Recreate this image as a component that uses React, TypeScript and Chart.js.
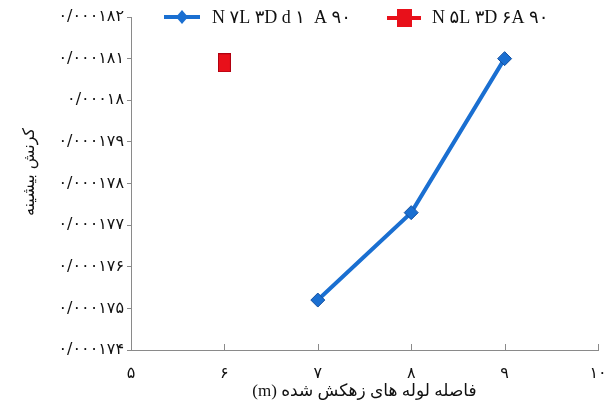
import React, { useEffect, useRef } from "react";
import { Chart, registerables } from "chart.js";

Chart.register(...registerables);

const xTicks = [5, 6, 7, 8, 9, 10];
const yTicks = [0.000174, 0.000175, 0.000176, 0.000177, 0.000178, 0.000179, 0.00018, 0.000181, 0.000182];
const blueX = [7, 8, 9];
const blueY = [0.0001752, 0.0001773, 0.000181];
const redX = [6];
const redY = [0.0001809];
const blueLabel = "N۷L۳Dd۱ A۹۰";
const redLabel = "N۵L۳D۶A۹۰";
const xTitle = "فاصله لوله های زهکش شده (m)";
const yTitle = "کرنش بیشینه";

const BLUE = "#1a6fd1";
const RED = "#e8101a";
const AXIS = "#8a8a8a";

const fa = (s: string) => s.replace(/[0-9]/g, (d) => "۰۱۲۳۴۵۶۷۸۹"[+d]);
const fmtY = (v: number) => {
  let s = v.toFixed(6);
  s = s.replace(/0+$/, "");
  return fa(s.replace(".", "/"));
};

function makeRect(w: number, h: number, color: string) {
  const c = document.createElement("canvas");
  c.width = w;
  c.height = h;
  const g = c.getContext("2d")!;
  g.fillStyle = color;
  g.fillRect(0, 0, w, h);
  g.strokeStyle = "#b00010";
  g.lineWidth = 1;
  g.strokeRect(0.5, 0.5, w - 1, h - 1);
  return c;
}

export default function App() {
  const ref = useRef<HTMLCanvasElement>(null);
  useEffect(() => {
    const redPt = makeRect(13, 19, RED);
    const extras = {
      id: "extras",
      afterDraw(chart: any) {
        const ctx = chart.ctx as CanvasRenderingContext2D;
        const xs = chart.scales.x;
        const area = chart.chartArea;
        ctx.save();
        ctx.strokeStyle = AXIS;
        ctx.lineWidth = 1;
        xTicks.forEach((t) => {
          const px = Math.round(xs.getPixelForValue(t)) + 0.5;
          ctx.beginPath();
          ctx.moveTo(px, area.bottom);
          ctx.lineTo(px, area.bottom - 6);
          ctx.stroke();
        });
        // x title (RTL)
        ctx.fillStyle = "#111";
        ctx.font = "17px 'Liberation Serif', 'DejaVu Sans'";
        ctx.textAlign = "center";
        ctx.textBaseline = "middle";
        (ctx as any).direction = "rtl";
        ctx.fillText(xTitle, (area.left + area.right) / 2, 392);
        // y title
        ctx.font = "16px 'DejaVu Sans', 'Liberation Serif'";
        ctx.translate(30, 172);
        ctx.rotate(-Math.PI / 2);
        ctx.fillText(yTitle, 0, 0);
        ctx.restore();

        // legend
        ctx.save();
        ctx.textBaseline = "middle";
        ctx.textAlign = "left";
        ctx.font = "18px 'Liberation Serif', 'DejaVu Sans'";
        (ctx as any).letterSpacing = "4.5px";
        ctx.fillStyle = "#111";
        ctx.strokeStyle = BLUE;
        ctx.lineWidth = 4;
        ctx.beginPath();
        ctx.moveTo(164, 17);
        ctx.lineTo(200, 17);
        ctx.stroke();
        ctx.fillStyle = BLUE;
        ctx.beginPath();
        ctx.moveTo(182, 10);
        ctx.lineTo(188, 17);
        ctx.lineTo(182, 24);
        ctx.lineTo(176, 17);
        ctx.closePath();
        ctx.fill();
        ctx.fillStyle = "#111";
        ctx.fillText(blueLabel, 212, 18);
        ctx.strokeStyle = RED;
        ctx.beginPath();
        ctx.moveTo(387, 18);
        ctx.lineTo(421, 18);
        ctx.stroke();
        ctx.fillStyle = RED;
        ctx.fillRect(397, 9, 15, 18);
        ctx.fillStyle = "#111";
        ctx.fillText(redLabel, 432, 18);
        ctx.restore();
      },
    };
    const chart = new Chart(ref.current!, {
      type: "scatter",
      data: {
        datasets: [
          {
            label: blueLabel,
            data: blueX.map((x, i) => ({ x, y: blueY[i] })),
            showLine: true,
            borderColor: BLUE,
            backgroundColor: BLUE,
            borderWidth: 4,
            pointStyle: "rectRot",
            pointRadius: 7,
            pointBorderWidth: 1,
            pointBorderColor: "#1450a0",
          },
          {
            label: redLabel,
            data: redX.map((x, i) => ({ x, y: redY[i] })),
            showLine: false,
            backgroundColor: RED,
            borderColor: RED,
            pointStyle: redPt as any,
            pointRadius: 9,
          },
        ],
      },
      options: {
        animation: false,
        responsive: false,
        maintainAspectRatio: false,
        layout: { padding: { top: 17, right: 12, left: 0, bottom: 0 } },
        plugins: { legend: { display: false }, tooltip: { enabled: false } },
        scales: {
          x: {
            type: "linear",
            min: 5,
            max: 10,
            afterBuildTicks: (s: any) => {
              s.ticks = xTicks.map((v) => ({ value: v }));
            },
            afterFit: (s: any) => {
              s.height = 64;
              s.paddingRight = 0;
              s.paddingLeft = 0;
            },
            grid: { display: false, drawTicks: false },
            border: { display: true, color: AXIS, width: 1 },
            ticks: {
              padding: 14,
              color: "#111",
              font: { family: "'DejaVu Sans', 'Liberation Serif'", size: 16 },
              callback: (v: any) => fa(String(v)),
            },
          },
          y: {
            type: "linear",
            min: 0.000174,
            max: 0.000182,
            afterBuildTicks: (s: any) => {
              s.ticks = yTicks.map((v) => ({ value: v }));
            },
            afterFit: (s: any) => {
              s.width = 131;
            },
            grid: { drawOnChartArea: false, drawTicks: true, tickLength: 4, color: AXIS },
            border: { display: true, color: AXIS, width: 1 },
            ticks: {
              padding: 3,
              color: "#111",
              font: { family: "'DejaVu Sans', 'Liberation Serif'", size: 16 },
              callback: (v: any) => fmtY(Number(v)),
            },
          },
        },
      },
      plugins: [extras],
    });
    return () => chart.destroy();
  }, []);
  return (
    <div style={{ position: "fixed", left: 0, top: 0, width: 610, height: 414, background: "#fff" }}>
      <canvas ref={ref} width={610} height={414} style={{ width: 610, height: 414 }} />
    </div>
  );
}
